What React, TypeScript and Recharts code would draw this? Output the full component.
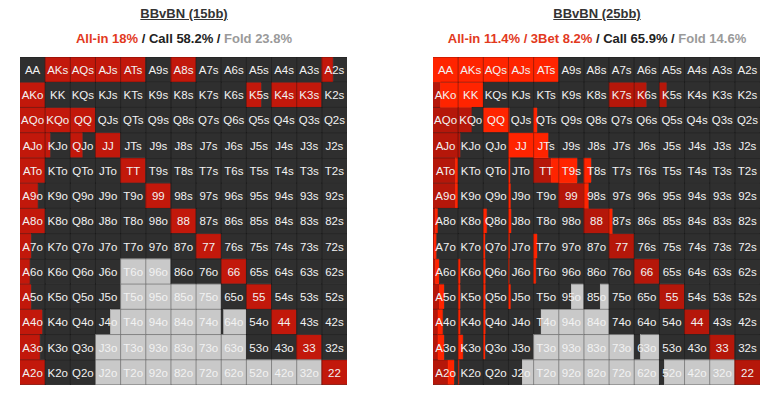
import React from 'react';
import { BarChart, Bar, XAxis, YAxis, ReferenceLine } from 'recharts';

// 13x13 preflop grid, rows/cols in rank order. Pairs on the diagonal,
// suited above it, offsuit below. Each cell = fractions of the hand.
const RANKS = ['A', 'K', 'Q', 'J', 'T', '9', '8', '7', '6', '5', '4', '3', '2'];

// ---- BBvBN 15bb ----
const ALLIN_15 = [
  [0, 1, 1, 1, 1, 0, 1, 0, 0, 0, 0, 0, 0.45],
  [1, 0, 0, 0, 0, 0, 0, 0, 0, 0.6, 1, 1, 0],
  [1, 1, 1, 0, 0, 0, 0, 0, 0, 0, 0, 0, 0],
  [1, 0.22, 0.5, 1, 0, 0, 0, 0, 0, 0, 0, 0, 0],
  [1, 0, 0, 0, 1, 0, 0, 0, 0, 0, 0, 0, 0],
  [0.72, 0, 0, 0, 0, 1, 0, 0, 0, 0, 0, 0, 0],
  [1, 0, 0, 0, 0, 0, 1, 0, 0, 0, 0, 0, 0],
  [0.45, 0, 0, 0, 0, 0, 0, 1, 0, 0, 0, 0, 0],
  [0.4, 0, 0, 0, 0, 0, 0, 0, 1, 0, 0, 0, 0],
  [0.45, 0, 0, 0, 0, 0, 0, 0, 0, 1, 0, 0, 0],
  [0.9, 0, 0, 0, 0, 0, 0, 0, 0, 0, 1, 0, 0],
  [0.8, 0, 0, 0, 0, 0, 0, 0, 0, 0, 0, 1, 0],
  [1, 0, 0, 0, 0, 0, 0, 0, 0, 0, 0, 0, 1],
];
const CALL_15 = [
  [1, 0, 0, 0, 0, 1, 0, 1, 1, 1, 1, 1, 0.55],
  [0, 1, 1, 1, 1, 1, 1, 1, 1, 0.4, 0, 0, 1],
  [0, 0, 0, 1, 1, 1, 1, 1, 1, 1, 1, 1, 1],
  [0, 0.78, 0.5, 0, 1, 1, 1, 1, 1, 1, 1, 1, 1],
  [0, 1, 1, 1, 0, 1, 1, 1, 1, 1, 1, 1, 1],
  [0.28, 1, 1, 1, 1, 0, 1, 1, 1, 1, 1, 1, 1],
  [0, 1, 1, 1, 1, 1, 0, 1, 1, 1, 1, 1, 1],
  [0.55, 1, 1, 1, 1, 1, 1, 0, 1, 1, 1, 1, 1],
  [0.6, 1, 1, 1, 0, 0, 1, 1, 0, 1, 1, 1, 1],
  [0.55, 1, 1, 1, 0, 0, 0, 0, 1, 0, 1, 1, 1],
  [0.1, 1, 1, 0.6, 0, 0, 0, 0, 0.1, 1, 0, 1, 1],
  [0.2, 1, 1, 0, 0, 0, 0, 0, 0, 1, 1, 0, 1],
  [0, 1, 1, 0, 0, 0, 0, 0, 0, 0, 0, 0, 0],
];
const FOLD_15 = [
  [0, 0, 0, 0, 0, 0, 0, 0, 0, 0, 0, 0, 0],
  [0, 0, 0, 0, 0, 0, 0, 0, 0, 0, 0, 0, 0],
  [0, 0, 0, 0, 0, 0, 0, 0, 0, 0, 0, 0, 0],
  [0, 0, 0, 0, 0, 0, 0, 0, 0, 0, 0, 0, 0],
  [0, 0, 0, 0, 0, 0, 0, 0, 0, 0, 0, 0, 0],
  [0, 0, 0, 0, 0, 0, 0, 0, 0, 0, 0, 0, 0],
  [0, 0, 0, 0, 0, 0, 0, 0, 0, 0, 0, 0, 0],
  [0, 0, 0, 0, 0, 0, 0, 0, 0, 0, 0, 0, 0],
  [0, 0, 0, 0, 1, 1, 0, 0, 0, 0, 0, 0, 0],
  [0, 0, 0, 0, 1, 1, 1, 1, 0, 0, 0, 0, 0],
  [0, 0, 0, 0.4, 1, 1, 1, 1, 0.9, 0, 0, 0, 0],
  [0, 0, 0, 1, 1, 1, 1, 1, 1, 0, 0, 0, 0],
  [0, 0, 0, 1, 1, 1, 1, 1, 1, 1, 1, 1, 0],
];

// ---- BBvBN 25bb ----
const ALLIN_25 = [
  [0, 0, 0, 0, 0, 0, 0, 0, 0, 0, 0, 0, 0],
  [0.3, 0, 0, 0, 0, 0, 0, 1, 0.5, 0.3, 0, 0, 0],
  [1, 0.55, 0, 0, 0, 0, 0, 0, 0, 0, 0, 0, 0],
  [1, 0.1, 0, 0, 0, 0, 0, 0, 0, 0, 0, 0, 0],
  [0.9, 0, 0, 0, 0.7, 0, 0, 0, 0, 0, 0, 0, 0],
  [0.9, 0, 0, 0, 0, 1, 0, 0, 0, 0, 0, 0, 0],
  [0.1, 0, 0, 0, 0, 0, 1, 0, 0, 0, 0, 0, 0],
  [0.05, 0, 0, 0, 0, 0, 0, 1, 0, 0, 0, 0, 0],
  [0.1, 0, 0, 0, 0, 0, 0, 0, 1, 0, 0, 0, 0],
  [0.25, 0, 0, 0, 0, 0, 0, 0, 0, 1, 0, 0, 0],
  [0.2, 0, 0, 0, 0, 0, 0, 0, 0, 0, 1, 0, 0],
  [0.2, 0, 0, 0, 0, 0, 0, 0, 0, 0, 0, 1, 0],
  [0.6, 0, 0, 0, 0, 0, 0, 0, 0, 0, 0, 0, 1],
];
const BET3_25 = [
  [1, 1, 1, 1, 1, 0, 0, 0, 0, 0, 0, 0, 0],
  [0.7, 1, 0, 0, 0, 0, 0, 0, 0, 0, 0, 0, 0],
  [0, 0, 1, 0.05, 0.15, 0, 0, 0, 0, 0, 0, 0, 0],
  [0, 0, 0, 1, 0.6, 0, 0, 0, 0, 0, 0, 0, 0],
  [0.1, 0, 0, 0.08, 0.3, 0.75, 0.3, 0, 0, 0, 0, 0, 0],
  [0.1, 0, 0, 0.1, 0, 0, 0.2, 0, 0, 0, 0, 0, 0],
  [0.1, 0, 0.15, 0.12, 0, 0, 0, 0.15, 0, 0, 0, 0, 0],
  [0.1, 0, 0.08, 0.06, 0.15, 0, 0, 0, 0, 0, 0, 0, 0],
  [0.15, 0.1, 0.1, 0.05, 0.1, 0, 0, 0, 0, 0, 0, 0, 0],
  [0.2, 0.1, 0.1, 0.1, 0, 0, 0, 0, 0, 0, 0, 0, 0],
  [0.2, 0.1, 0.1, 0, 0, 0, 0, 0, 0, 0, 0, 0, 0],
  [0.25, 0.2, 0.08, 0, 0, 0, 0, 0, 0, 0, 0, 0, 0],
  [0.25, 0.05, 0, 0, 0, 0, 0, 0, 0, 0, 0, 0, 0],
];
const CALL_25 = [
  [0, 0, 0, 0, 0, 1, 1, 1, 1, 1, 1, 1, 1],
  [0, 0, 1, 1, 1, 1, 1, 0, 0.5, 0.7, 1, 1, 1],
  [0, 0.45, 0, 0.95, 0.85, 1, 1, 1, 1, 1, 1, 1, 1],
  [0, 0.9, 1, 0, 0.4, 1, 1, 1, 1, 1, 1, 1, 1],
  [0, 1, 1, 0.92, 0, 0.25, 0.7, 1, 1, 1, 1, 1, 1],
  [0, 1, 1, 0.9, 1, 0, 0.8, 1, 1, 1, 1, 1, 1],
  [0.8, 1, 0.85, 0.88, 1, 1, 0, 0.85, 1, 1, 1, 1, 1],
  [0.85, 1, 0.92, 0.94, 0.85, 1, 1, 0, 1, 1, 1, 1, 1],
  [0.75, 0.9, 0.9, 0.95, 0.9, 1, 1, 1, 0, 1, 1, 1, 1],
  [0.55, 0.9, 0.9, 0.9, 1, 0.5, 0.65, 1, 1, 0, 1, 1, 1],
  [0.6, 0.9, 0.9, 1, 0.3, 0, 0, 1, 1, 1, 0, 1, 1],
  [0.55, 0.8, 0.92, 1, 0, 0, 0, 0, 0.25, 1, 1, 0, 1],
  [0.15, 0.95, 1, 0.55, 0, 0, 0, 0, 0, 0.2, 0, 0, 0],
];
const FOLD_25 = [
  [0, 0, 0, 0, 0, 0, 0, 0, 0, 0, 0, 0, 0],
  [0, 0, 0, 0, 0, 0, 0, 0, 0, 0, 0, 0, 0],
  [0, 0, 0, 0, 0, 0, 0, 0, 0, 0, 0, 0, 0],
  [0, 0, 0, 0, 0, 0, 0, 0, 0, 0, 0, 0, 0],
  [0, 0, 0, 0, 0, 0, 0, 0, 0, 0, 0, 0, 0],
  [0, 0, 0, 0, 0, 0, 0, 0, 0, 0, 0, 0, 0],
  [0, 0, 0, 0, 0, 0, 0, 0, 0, 0, 0, 0, 0],
  [0, 0, 0, 0, 0, 0, 0, 0, 0, 0, 0, 0, 0],
  [0, 0, 0, 0, 0, 0, 0, 0, 0, 0, 0, 0, 0],
  [0, 0, 0, 0, 0, 0.5, 0.35, 0, 0, 0, 0, 0, 0],
  [0, 0, 0, 0, 0.7, 1, 1, 0, 0, 0, 0, 0, 0],
  [0, 0, 0, 0, 1, 1, 1, 1, 0.75, 0, 0, 0, 0],
  [0, 0, 0, 0.45, 1, 1, 1, 1, 1, 0.8, 1, 1, 0],
];

const CALL_COLOR = '#2f2f2f';
const FOLD_COLOR = '#c9c9c9';
const LINE_COLOR = 'rgba(0,0,0,0.35)';
const FONT = '"Liberation Sans", Arial, Helvetica, sans-serif';

document.body.style.margin = '0';

type Action = { key: string; color: string; data: number[][] };

const ACTIONS_15: Action[] = [
  { key: 'allin', color: '#c2180b', data: ALLIN_15 },
  { key: 'call', color: CALL_COLOR, data: CALL_15 },
  { key: 'fold', color: FOLD_COLOR, data: FOLD_15 },
];
const ACTIONS_25: Action[] = [
  { key: 'allin', color: '#b5170a', data: ALLIN_25 },
  { key: 'bet3', color: '#ff2400', data: BET3_25 },
  { key: 'call', color: CALL_COLOR, data: CALL_25 },
  { key: 'fold', color: FOLD_COLOR, data: FOLD_25 },
];

function handLabel(r: number, c: number) {
  if (r === c) return RANKS[r] + RANKS[c];
  if (c > r) return RANKS[r] + RANKS[c] + 's';
  return RANKS[c] + RANKS[r] + 'o';
}

function buildRows(actions: Action[]) {
  return RANKS.map((rank, r) => {
    const row: Record<string, number | string> = { rank, r };
    RANKS.forEach((_, c) => {
      actions.forEach((a) => {
        row[`c${c}_${a.key}`] = a.data[r][c];
      });
    });
    return row;
  });
}

const GRID_W = 327;
const GRID_H = 328;

function RangeGrid({ actions }: { actions: Action[] }) {
  const rows = buildRows(actions);
  const segments: { c: number; k: number }[] = [];
  RANKS.forEach((_, c) => actions.forEach((__, k) => segments.push({ c, k })));

  const makeShape = (c: number, k: number) => (props: any) => {
    const { x, y, width, height, payload } = props;
    const r = payload.r as number;
    const frac = actions[k].data[r][c];
    if (!frac || !width) return <g />;
    const isLast = actions.slice(k + 1).every((a) => !a.data[r][c]);
    const cellW = width / frac;
    return (
      <g>
        <rect x={x} y={y} width={width} height={height} fill={actions[k].color} stroke={actions[k].color} strokeWidth={0.6} />
        <line x1={x} x2={x + width} y1={y} y2={y} stroke={LINE_COLOR} strokeWidth={1} />
        {r === RANKS.length - 1 && (
          <line x1={x} x2={x + width} y1={y + height} y2={y + height} stroke={LINE_COLOR} strokeWidth={1} />
        )}
        {isLast && (
          <text
            x={x + width - cellW / 2}
            y={y + height / 2 + 0.5}
            textAnchor="middle"
            dominantBaseline="central"
            fill="#f2f2f2"
            fontSize={11.5}
            fontFamily={FONT}
          >
            {handLabel(r, c)}
          </text>
        )}
      </g>
    );
  };

  return (
    <BarChart
      layout="vertical"
      width={GRID_W}
      height={GRID_H}
      data={rows}
      margin={{ top: 0, right: 0, bottom: 0, left: 0 }}
      barCategoryGap={0}
    >
      <XAxis type="number" domain={[0, 13]} allowDataOverflow hide />
      <YAxis type="category" dataKey="rank" hide />
      {segments.map(({ c, k }) => (
        <Bar
          key={`c${c}_${actions[k].key}`}
          dataKey={`c${c}_${actions[k].key}`}
          stackId="cells"
          fill={actions[k].color}
          shape={makeShape(c, k)}
          isAnimationActive={false}
        />
      ))}
      {RANKS.slice(1).map((_, i) => (
        <ReferenceLine key={`v${i}`} x={i + 1} stroke={LINE_COLOR} strokeWidth={1} ifOverflow="visible" />
      ))}
    </BarChart>
  );
}

const titleStyle: React.CSSProperties = {
  position: 'absolute',
  width: 380,
  textAlign: 'center',
  fontFamily: FONT,
  fontWeight: 700,
  fontSize: 13,
  whiteSpace: 'nowrap',
};

export default function App() {
  return (
    <div style={{ position: 'relative', width: 775, height: 397, background: '#fff', fontFamily: FONT }}>
      <div style={{ ...titleStyle, left: 184 - 190, top: 6, color: '#333', textDecoration: 'underline' }}>
        BBvBN (15bb)
      </div>
      <div style={{ ...titleStyle, left: 184 - 190, top: 31 }}>
        <span style={{ color: '#e2391d' }}>All-in 18%</span>
        <span style={{ color: '#222' }}> / Call 58.2% / </span>
        <span style={{ color: '#9a9a9a' }}>Fold 23.8%</span>
      </div>
      <div style={{ ...titleStyle, left: 597 - 190, top: 6, color: '#333', textDecoration: 'underline' }}>
        BBvBN (25bb)
      </div>
      <div style={{ ...titleStyle, left: 597 - 190, top: 31 }}>
        <span style={{ color: '#e2391d' }}>All-in 11.4% / 3Bet 8.2%</span>
        <span style={{ color: '#222' }}> / Call 65.9% / </span>
        <span style={{ color: '#9a9a9a' }}>Fold 14.6%</span>
      </div>
      <div style={{ position: 'absolute', left: 20, top: 57 }}>
        <RangeGrid actions={ACTIONS_15} />
      </div>
      <div style={{ position: 'absolute', left: 433, top: 57 }}>
        <RangeGrid actions={ACTIONS_25} />
      </div>
    </div>
  );
}
